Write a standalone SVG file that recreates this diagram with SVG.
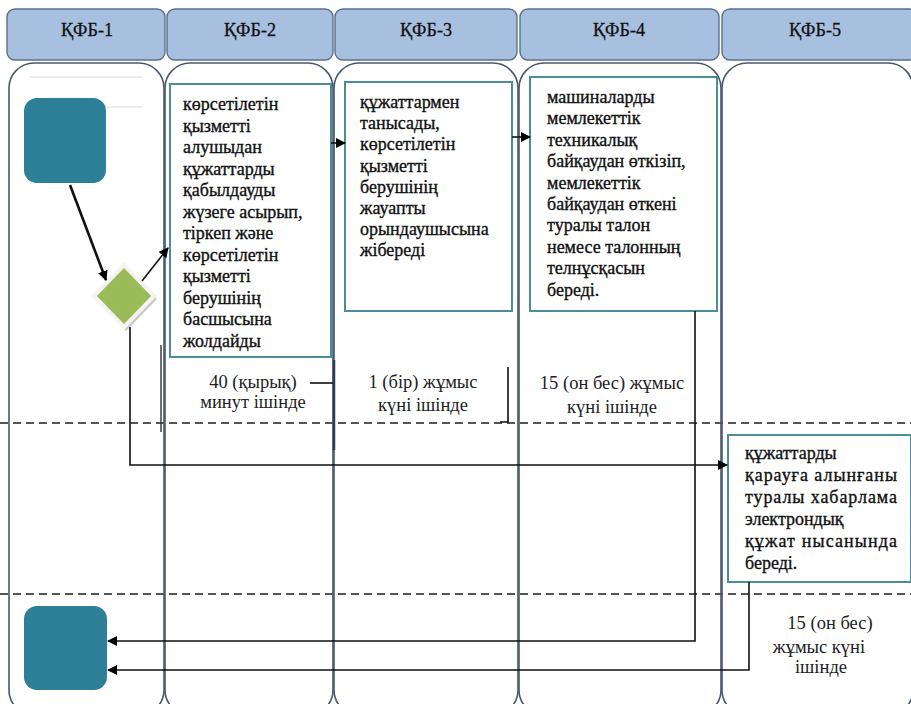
<svg xmlns="http://www.w3.org/2000/svg" width="911" height="704" viewBox="0 0 911 704" font-family="'Liberation Serif', 'Times New Roman', serif">
<defs>
<marker id="ah" viewBox="0 0 10 10" refX="9" refY="5" markerWidth="10" markerHeight="10" markerUnits="userSpaceOnUse" orient="auto">
<path d="M0,0 L10,5 L0,10 z" fill="#000"/>
</marker>
<style>
.lane{fill:#fff;stroke:#48586f;stroke-width:1.6}
.hdr{fill:#a8c0df;stroke:#5a6f8e;stroke-width:1.4}
.ht{font-family:'Liberation Serif','Times New Roman',serif;font-size:19px;fill:#111;text-anchor:middle;stroke:#111;stroke-width:0.3}
.box{fill:#fff;stroke:#4d8c99;stroke-width:2}
.t{font-family:'Liberation Serif','Times New Roman',serif;font-size:18px;fill:#111;stroke:#111;stroke-width:0.35}
.tm{font-family:'Liberation Serif','Times New Roman',serif;font-size:18.5px;fill:#222;text-anchor:middle}
.term{fill:#2e7f98}
.dash{stroke:#555;stroke-width:2;stroke-dasharray:8 5;fill:none}
.ln{stroke:#111;stroke-width:1.6;fill:none}
.arr{stroke:#111;stroke-width:1.6;fill:none;marker-end:url(#ah)}
.brk{stroke:#2b3a55;stroke-width:2.5;fill:none}
</style>
</defs>

<g id="lanes">
<rect class="lane" x="9" y="63" width="155" height="652" rx="25"/>
<rect class="lane" x="165" y="63" width="168" height="652" rx="25"/>
<rect class="lane" x="334" y="63" width="184" height="652" rx="25"/>
<rect class="lane" x="519" y="63" width="202" height="652" rx="25"/>
<rect class="lane" x="722" y="63" width="191" height="652" rx="25"/>
</g>

<g id="headers">
<g id="h1"><rect class="hdr" x="7" y="9" width="158" height="51" rx="8"/><text class="ht" x="87" y="36" textLength="52" lengthAdjust="spacingAndGlyphs">ҚФБ-1</text></g>
<g id="h2"><rect class="hdr" x="167" y="9" width="166" height="51" rx="8"/><text class="ht" x="250" y="36" textLength="52" lengthAdjust="spacingAndGlyphs">ҚФБ-2</text></g>
<g id="h3"><rect class="hdr" x="335" y="9" width="182" height="51" rx="8"/><text class="ht" x="426" y="36" textLength="52" lengthAdjust="spacingAndGlyphs">ҚФБ-3</text></g>
<g id="h4"><rect class="hdr" x="520" y="9" width="199" height="51" rx="8"/><text class="ht" x="619" y="36" textLength="52" lengthAdjust="spacingAndGlyphs">ҚФБ-4</text></g>
<g id="h5"><rect class="hdr" x="722" y="9" width="195" height="51" rx="8"/><text class="ht" x="815" y="36" textLength="52" lengthAdjust="spacingAndGlyphs">ҚФБ-5</text></g>
</g>

<g id="separators">
<line class="dash" x1="0" y1="423" x2="911" y2="423"/>
<line class="dash" x1="0" y1="594" x2="911" y2="594"/>
<line x1="30" y1="77" x2="143" y2="77" stroke="#dcdcdc" stroke-width="1.2"/>
<line x1="105" y1="107" x2="143" y2="107" stroke="#dcdcdc" stroke-width="1.2"/>
</g>

<g id="start"><rect class="term" x="24" y="98" width="82" height="85" rx="13"/></g>

<g id="decision">
<polygon points="126,267 157,299 126,331 95,299" fill="#c8c8c8"/>
<polygon points="124,265 154,296 124,327 94,296" fill="#9bbb59" stroke="#f4f4f4" stroke-width="4"/>
</g>

<g id="box2">
<rect class="box" x="170" y="84" width="161" height="273"/>
<text class="t" x="183" y="110">көрсетілетін</text>
<text class="t" x="183" y="131.5">қызметті</text>
<text class="t" x="183" y="153">алушыдан</text>
<text class="t" x="183" y="174.5">құжаттарды</text>
<text class="t" x="183" y="196">қабылдауды</text>
<text class="t" x="183" y="217.5">жүзеге асырып,</text>
<text class="t" x="183" y="239">тіркеп және</text>
<text class="t" x="183" y="260.5">көрсетілетін</text>
<text class="t" x="183" y="282">қызметті</text>
<text class="t" x="183" y="303.5">берушінің</text>
<text class="t" x="183" y="325">басшысына</text>
<text class="t" x="183" y="346.5">жолдайды</text>
</g>

<g id="box3">
<rect class="box" x="345" y="82" width="167" height="229"/>
<text class="t" x="360" y="108">құжаттармен</text>
<text class="t" x="360" y="129.2">танысады,</text>
<text class="t" x="360" y="150.4">көрсетілетін</text>
<text class="t" x="360" y="171.6">қызметті</text>
<text class="t" x="360" y="192.8">берушінің</text>
<text class="t" x="360" y="214">жауапты</text>
<text class="t" x="360" y="235.2">орындаушысына</text>
<text class="t" x="360" y="256.4">жібереді</text>
</g>

<g id="box4">
<rect class="box" x="530" y="77" width="187" height="234"/>
<text class="t" x="547" y="103">машиналарды</text>
<text class="t" x="547" y="124.4">мемлекеттік</text>
<text class="t" x="547" y="145.8">техникалық</text>
<text class="t" x="547" y="167.2">байқаудан өткізіп,</text>
<text class="t" x="547" y="188.6">мемлекеттік</text>
<text class="t" x="547" y="210">байқаудан өткені</text>
<text class="t" x="547" y="231.4">туралы талон</text>
<text class="t" x="547" y="252.8">немесе талонның</text>
<text class="t" x="547" y="274.2">телнұсқасын</text>
<text class="t" x="547" y="295.6">береді.</text>
</g>

<g id="box5">
<rect class="box" x="728" y="435" width="183" height="147"/>
<text class="t" x="745" y="459">құжаттарды</text>
<text class="t" x="745" y="481" textLength="152" lengthAdjust="spacing">қарауға алынғаны</text>
<text class="t" x="745" y="503" textLength="152" lengthAdjust="spacing">туралы хабарлама</text>
<text class="t" x="745" y="525">электрондық</text>
<text class="t" x="745" y="547" textLength="152" lengthAdjust="spacing">құжат нысанында</text>
<text class="t" x="745" y="569">береді.</text>
</g>

<g id="end"><rect class="term" x="24" y="606" width="83" height="84" rx="13"/></g>

<g id="timings">
<text class="tm" x="253" y="388">40 (қырық)</text>
<text class="tm" x="253" y="408">минут ішінде</text>
<text class="tm" x="423" y="388">1 (бір) жұмыс</text>
<text class="tm" x="423" y="411">күні ішінде</text>
<text class="tm" x="612" y="389">15 (он бес) жұмыс</text>
<text class="tm" x="612" y="413">күні ішінде</text>
<text class="tm" x="830" y="629">15 (он бес)</text>
<text class="tm" x="819" y="653">жұмыс күні</text>
<text class="tm" x="821" y="673">ішінде</text>
</g>

<g id="connectors">
<line x1="70" y1="185" x2="106" y2="280" stroke="#111" stroke-width="2.6" marker-end="url(#ah)"/>
<line class="arr" x1="142" y1="281" x2="168" y2="248"/>
<line class="arr" x1="331" y1="143" x2="345" y2="143"/>
<line class="arr" x1="512" y1="137" x2="530" y2="137"/>
<polyline class="arr" points="130,327 130,465 727,465"/>
<polyline class="arr" points="695,311 695,641 108,641"/>
<polyline class="arr" points="749,582 749,670 108,670"/>
<line x1="161" y1="345" x2="161" y2="432" stroke="#333" stroke-width="1.4"/>
<polyline class="ln" points="310,383 333,383"/>
<line class="brk" x1="334" y1="360" x2="334" y2="450"/>
<polyline class="ln" points="508,367 508,422 500,422"/>
</g>
</svg>
